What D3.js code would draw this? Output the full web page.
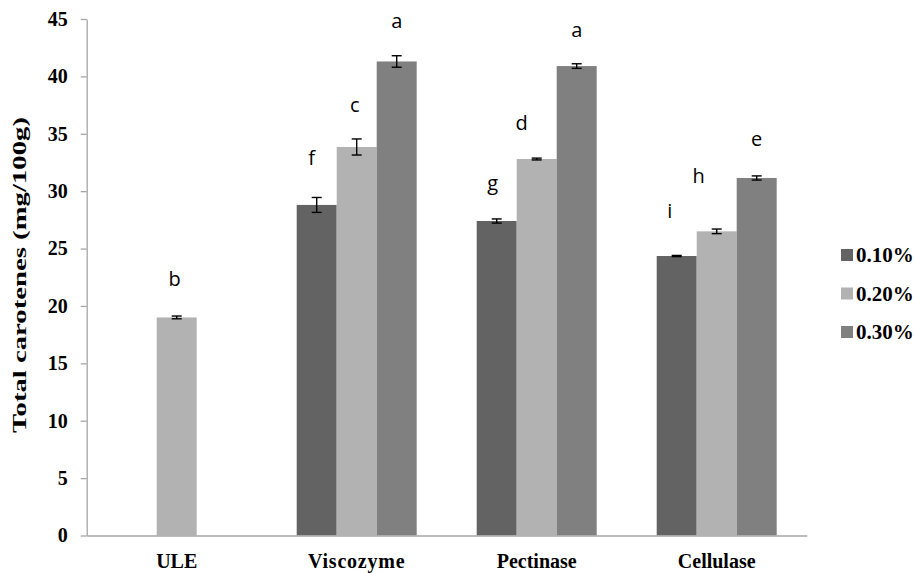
<!DOCTYPE html>
<html>
<head>
  <meta charset="UTF-8">
  <title>total carotenes</title>
  <script src="https://cdn.jsdelivr.net/npm/d3@7"></script>
  <style>
    body { margin: 0; background: #fff; }
    svg { background: #fff; display: block; }
    .axis text { font-family: "Liberation Serif", "Times New Roman", serif; font-weight: bold; fill: #000; }
    .axis path, .axis line { stroke: #a6a6a6; stroke-width: 1.3; }
    .letter { font-family: "Open Sans", "Noto Sans", sans-serif; font-size: 20px; fill: #000; }
    .legend text { font-family: "Liberation Serif", serif; font-weight: bold; font-size: 21px; }
  </style>
</head>
<body>
<svg width="914" height="573"></svg>
<script>
// values
var categories = ["ULE", "Viscozyme", "Pectinase", "Cellulase"];
var series = ["0.10%", "0.20%", "0.30%"];
var colors = ["#636363", "#b2b2b2", "#808080"];

var v10 = [null, 28.8, 27.4, 24.35];
var v20 = [19.0, 33.85, 32.8, 26.5];
var v30 = [null, 41.3, 40.9, 31.15];

var e10 = [null, 0.65, 0.18, 0.05];
var e20 = [0.12, 0.7, 0.08, 0.2];
var e30 = [null, 0.5, 0.2, 0.18];

var l10 = [null, "f", "g", "i"];
var l20 = ["b", "c", "d", "h"];
var l30 = [null, "a", "a", "e"];

var yTicks = [0, 5, 10, 15, 20, 25, 30, 35, 40, 45];

// hand placement of the significance letters (px above bar top, px sideways)
var letterLift = [[null, 40, 31, 38], [31, 35, 29, 48], [null, 33, 29, 32]];
var letterShift = [[null, -5, -4, -7], [-2, -2, -15, -18], [null, 0, 0, 0]];

var vals = [v10, v20, v30], errs = [e10, e20, e30], letters = [l10, l20, l30];
var rows = [];
series.forEach(function(s, si) {
  categories.forEach(function(c, ci) {
    if (vals[si][ci] == null) return;
    rows.push({cat: c, s: s, si: si, ci: ci, v: vals[si][ci], e: errs[si][ci], l: letters[si][ci]});
  });
});

var svg = d3.select("svg");
var plotLeft = 86.7, plotRight = 806.7, plotTop = 19, plotBottom = 535.5;

var x0 = d3.scaleBand().domain(categories).range([plotLeft, plotRight]);
var x1 = d3.scaleBand().domain(series).range([30, 150]);
var y = d3.scaleLinear().domain([0, 45]).range([plotBottom, plotTop]);

// y axis
var ya = svg.append("g").attr("class", "axis")
  .attr("transform", "translate(" + plotLeft + ",0)")
  .call(d3.axisLeft(y).tickValues(yTicks).tickSize(6).tickSizeOuter(0).tickPadding(13));
ya.selectAll("text").attr("font-size", 20);

// bars
svg.append("g").selectAll("rect").data(rows).enter().append("rect")
  .attr("x", function(d) { return x0(d.cat) + x1(d.s); })
  .attr("y", function(d) { return y(d.v); })
  .attr("width", x1.bandwidth())
  .attr("height", function(d) { return plotBottom - y(d.v); })
  .attr("fill", function(d) { return colors[d.si]; });

// x axis
var xa = svg.append("g").attr("class", "axis")
  .attr("transform", "translate(0," + plotBottom + ")")
  .call(d3.axisBottom(x0).tickSize(0).tickPadding(18));
xa.selectAll("text").attr("font-size", 20).attr("letter-spacing", function(d) { return d == "Viscozyme" ? 0.8 : 0; });

// error bars
var eb = svg.append("g").attr("stroke", "#000").attr("stroke-width", 1.4);
rows.forEach(function(d) {
  var cx = x0(d.cat) + x1(d.s) + x1.bandwidth() / 2;
  var y1 = y(d.v + d.e), y2 = y(d.v - d.e);
  eb.append("line").attr("x1", cx).attr("x2", cx).attr("y1", y1).attr("y2", y2);
  eb.append("line").attr("x1", cx - 5).attr("x2", cx + 5).attr("y1", y1).attr("y2", y1);
  eb.append("line").attr("x1", cx - 5).attr("x2", cx + 5).attr("y1", y2).attr("y2", y2);
});

// letters
svg.append("g").selectAll("text").data(rows).enter().append("text")
  .attr("class", "letter")
  .attr("text-anchor", "middle")
  .attr("x", function(d) { return x0(d.cat) + x1(d.s) + x1.bandwidth() / 2 + letterShift[d.si][d.ci]; })
  .attr("y", function(d) { return y(d.v) - letterLift[d.si][d.ci]; })
  .text(function(d) { return d.l; });

// y title
svg.append("text")
  .attr("transform", "translate(26,275) rotate(-90)")
  .attr("text-anchor", "middle")
  .attr("font-family", "Liberation Serif, serif")
  .attr("font-weight", "bold")
  .attr("font-size", 19)
  .attr("textLength", 316)
  .attr("lengthAdjust", "spacingAndGlyphs")
  .text("Total carotenes (mg/100g)");

// legend
var lg = svg.append("g").attr("class", "legend").selectAll("g").data(series).enter().append("g")
  .attr("transform", function(d, i) { return "translate(841," + (255 + i * 38.5) + ")"; });
lg.append("rect").attr("x", 0).attr("y", -6).attr("width", 12).attr("height", 12)
  .attr("fill", function(d, i) { return colors[i]; });
lg.append("text").attr("x", 15).attr("y", 7).text(function(d) { return d; });
</script>
</body>
</html>
